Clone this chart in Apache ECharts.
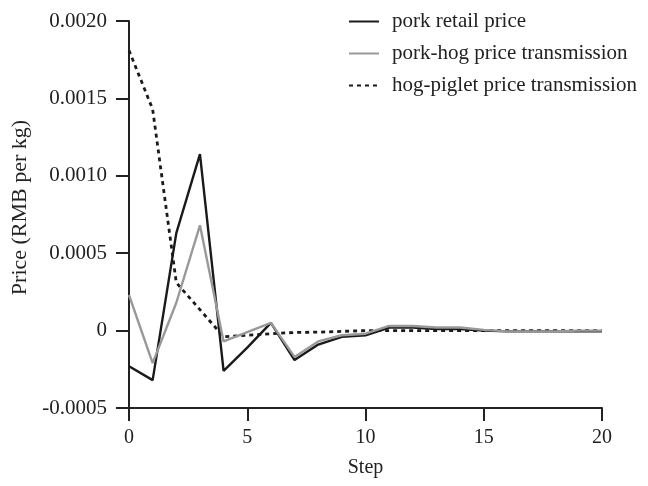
<!DOCTYPE html>
<html>
<head>
<meta charset="utf-8">
<script src="https://cdn.jsdelivr.net/npm/echarts@6/dist/echarts.min.js"></script>
<style>html,body{margin:0;padding:0;background:#fff}#c{width:648px;height:486px}</style>
</head>
<body>
<div id="c"></div>
<script>
var steps = [0,1,2,3,4,5,6,7,8,9,10,11,12,13,14,15,16,17,18,19,20];
var porkRetail = [-0.00023,-0.00032,0.00063,0.00114,-0.00026,-0.00011,0.00005,-0.00019,-0.00009,-0.00004,-0.00003,0.00002,0.00002,0.00001,0.00001,0.0,-0.000005,-0.000005,-0.000005,-0.000005,-0.000005];
var porkHog = [0.00023,-0.00021,0.00018,0.00068,-0.00007,-0.00001,0.00005,-0.00017,-0.00007,-0.00003,-0.00002,0.00003,0.00003,0.00002,0.00002,0.000005,-0.000005,-0.000005,-0.000005,0.0,0.0];
var hogPiglet = [0.00181,0.00143,0.00031,0.000135,-0.00004,-0.00003,-0.00002,-0.000012,-0.00001,-0.000005,0.0,0.0,0.0,0.0,0.0,0.0,0.0,0.0,0.0,0.0,0.0];
var seriesNames = ['pork retail price','pork-hog price transmission','hog-piglet price transmission'];

function pairs(arr){ return steps.map(function(s,i){ return [s, arr[i]]; }); }
var font = 'Liberation Serif';
var chart = echarts.init(document.getElementById('c'));
chart.setOption({
  animation: false,
  backgroundColor: '#fff',
  textStyle: {fontFamily: font},
  grid: {left: 129, right: 46, top: 21, bottom: 78},
  legend: {
    orient: 'vertical', left: 343, top: 6, itemGap: 11, itemWidth: 30, itemHeight: 22,
    textStyle: {fontFamily: font, fontSize: 21, color: '#222', padding: [0, 0, 0, 8]},
    itemStyle: {opacity: 0},
    data: seriesNames
  },
  xAxis: {
    type: 'value', min: 0, max: 20, interval: 5,
    name: 'Step', nameLocation: 'middle', nameGap: 50,
    nameTextStyle: {fontFamily: font, fontSize: 20, color: '#222'},
    axisLine: {onZero: false, lineStyle: {color: '#222', width: 2}},
    axisTick: {length: 13, lineStyle: {color: '#222', width: 2}},
    axisLabel: {fontFamily: font, fontSize: 20, color: '#222', margin: 20},
    splitLine: {show: false}
  },
  yAxis: {
    type: 'value', min: -0.0005, max: 0.002, interval: 0.0005,
    name: 'Price (RMB per kg)', nameLocation: 'middle', nameGap: 88,
    nameTextStyle: {fontFamily: font, fontSize: 22, color: '#222', padding: [0, 0, 0, 14]},
    axisLine: {show: true, lineStyle: {color: '#222', width: 2}},
    axisTick: {show: true, length: 13, lineStyle: {color: '#222', width: 2}},
    axisLabel: {fontFamily: font, fontSize: 21, color: '#222', margin: 22,
      formatter: function(v){ if (Math.abs(v) < 1e-12) return '0'; return v.toFixed(4); }},
    splitLine: {show: false}
  },
  series: [
    {name: seriesNames[0], type: 'line', data: pairs(porkRetail), symbol: 'none',
     lineStyle: {color: '#1a1a1a', width: 2.4}, itemStyle: {color: '#1a1a1a'}, z: 3},
    {name: seriesNames[1], type: 'line', data: pairs(porkHog), symbol: 'none',
     lineStyle: {color: '#999999', width: 2.4}, itemStyle: {color: '#999999'}, z: 4},
    {name: seriesNames[2], type: 'line', data: pairs(hogPiglet), symbol: 'none',
     lineStyle: {color: '#1a1a1a', width: 2.8, type: [4, 4]}, itemStyle: {color: '#1a1a1a'}, z: 2}
  ]
});
</script>
</body>
</html>
